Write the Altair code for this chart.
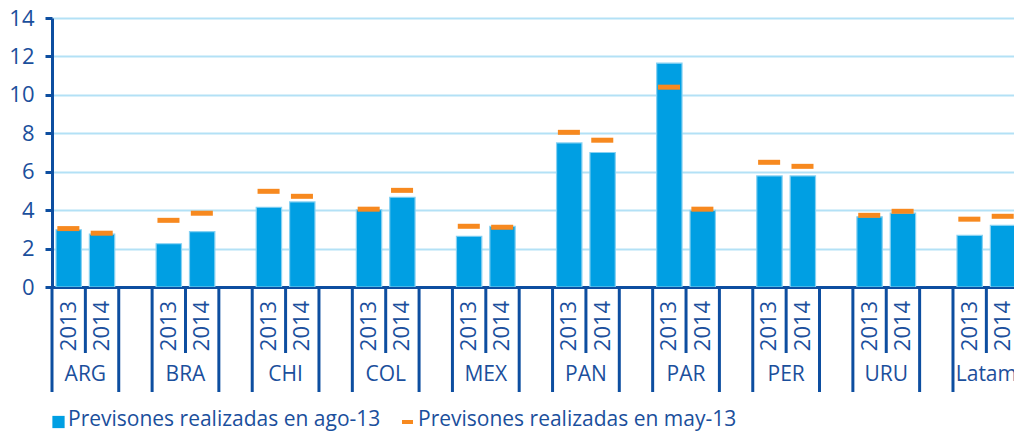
import altair as alt
import pandas as pd

countries = ["ARG", "BRA", "CHI", "COL", "MEX", "PAN", "PAR", "PER", "URU", "Latam"]
years = ["2013", "2014"]
ago13 = [2.98, 2.75, 2.25, 2.88, 4.15, 4.43, 4.02, 4.67, 2.64, 3.16,
         7.5, 7.0, 11.65, 3.99, 5.78, 5.78, 3.65, 3.84, 2.69, 3.21]
may13 = [3.04, 2.8, 3.47, 3.84, 4.98, 4.72, 4.05, 5.03, 3.16, 3.11,
         8.05, 7.64, 10.4, 4.05, 6.49, 6.28, 3.73, 3.94, 3.53, 3.68]
legend_labels = ["Previsones realizadas en ago-13", "Previsones realizadas en may-13"]

BLUE = "#009FE3"
ORANGE = "#F7891F"
DARK = "#0D4EA0"
TEXT = "#1B4F9C"
GRID = "#B3E1F6"
FONT = "Open Sans"
FS = 21

W, H = 962, 269
XMAX = 962 / 33.37

rows = []
for ci, c in enumerate(countries):
    for yi, yr in enumerate(years):
        i = ci * 2 + yi
        rows.append({"country": c, "year": yr, "slot": ci * 3 + yi,
                     "ago": ago13[i], "may": may13[i]})
df = pd.DataFrame(rows)

bounds = []
for ci, c in enumerate(countries):
    for off, kind in [(0, "long"), (1, "short"), (2, "long")]:
        b = ci * 3 + off
        if b <= XMAX:
            bounds.append({"b": b, "kind": kind})
bdf = pd.DataFrame(bounds)

gdf = pd.DataFrame({"country": countries, "center": [ci * 3 + 1 for ci in range(len(countries))]})

xscale = alt.Scale(domain=[0, XMAX], nice=False, zero=False)
yscale = alt.Scale(domain=[0, 14], nice=False)

xaxis = alt.Axis(title=None, labels=False, ticks=False, grid=False,
                 domainColor=DARK, domainWidth=3)
yaxis = alt.Axis(title=None, values=list(range(0, 15, 2)), grid=True,
                 gridColor=GRID, gridWidth=2, domainColor=DARK, domainWidth=3,
                 tickColor=DARK, tickWidth=3, tickSize=7, labelPadding=11,
                 labelOverlap=False, labelFlush=False,
                 labelFont=FONT, labelFontSize=22, labelColor=TEXT)

base = alt.Chart(df)

bars = base.transform_calculate(
    lo="datum.slot + 0.12", hi="datum.slot + 0.88"
).mark_bar(color=BLUE, stroke="#86D1F2", strokeWidth=1.2, clip=True).encode(
    x=alt.X("lo:Q", scale=xscale, axis=xaxis),
    x2="hi:Q",
    y=alt.Y("ago:Q", scale=yscale, axis=yaxis),
    y2=alt.datum(0),
)

marks = base.transform_calculate(
    lo="datum.slot + 0.16", hi="datum.slot + 0.82"
).mark_rule(color=ORANGE, strokeWidth=5, clip=True).encode(
    x=alt.X("lo:Q", scale=xscale, axis=xaxis), x2="hi:Q",
    y=alt.Y("may:Q", scale=yscale, axis=yaxis)
)

short_rules = alt.Chart(bdf).transform_filter("datum.kind == 'short'").mark_rule(
    color=DARK, strokeWidth=3).encode(
    x=alt.X("b:Q", scale=xscale, axis=xaxis), y=alt.value(H), y2=alt.value(H + 66))
long_rules = alt.Chart(bdf).transform_filter("datum.kind == 'long'").mark_rule(
    color=DARK, strokeWidth=3).encode(
    x=alt.X("b:Q", scale=xscale, axis=xaxis), y=alt.value(H), y2=alt.value(H + 105))

year_text = base.transform_calculate(c="datum.slot + 0.5").mark_text(
    angle=270, align="center", baseline="middle", font=FONT, fontSize=22, color=TEXT
).encode(x=alt.X("c:Q", scale=xscale, axis=xaxis), y=alt.value(H + 39), text="year:N")

country_text = alt.Chart(gdf).mark_text(
    align="center", baseline="middle", font=FONT, fontSize=FS, color=TEXT
).encode(x=alt.X("center:Q", scale=xscale, axis=xaxis), y=alt.value(H + 88), text="country:N")

ldf = pd.DataFrame({"label": legend_labels})
leg_sq = alt.Chart(ldf).transform_filter(f"datum.label == '{legend_labels[0]}'").mark_square(
    color=BLUE, size=150, opacity=1).encode(x=alt.value(6.5), y=alt.value(H + 135))
leg_dash = alt.Chart(ldf).transform_filter(f"datum.label == '{legend_labels[1]}'").mark_rule(
    color=ORANGE, strokeWidth=4).encode(x=alt.value(350), x2=alt.value(361), y=alt.value(H + 135))
leg_t1 = alt.Chart(ldf).transform_filter(f"datum.label == '{legend_labels[0]}'").mark_text(
    align="left", baseline="middle", font=FONT, fontSize=FS, color=TEXT
).encode(x=alt.value(16), y=alt.value(H + 133), text="label:N")
leg_t2 = alt.Chart(ldf).transform_filter(f"datum.label == '{legend_labels[1]}'").mark_text(
    align="left", baseline="middle", font=FONT, fontSize=FS, color=TEXT
).encode(x=alt.value(366), y=alt.value(H + 133), text="label:N")

chart = alt.layer(
    bars, marks, short_rules, long_rules, year_text, country_text,
    leg_sq, leg_dash, leg_t1, leg_t2
).properties(
    width=W, height=H,
    autosize=alt.AutoSizeParams(type="none"),
    padding={"left": 52, "top": 18, "right": 0, "bottom": 145},
    background="white",
).configure_view(stroke=None)

chart.save("out.html", embed_options={"renderer": "svg", "actions": False})
